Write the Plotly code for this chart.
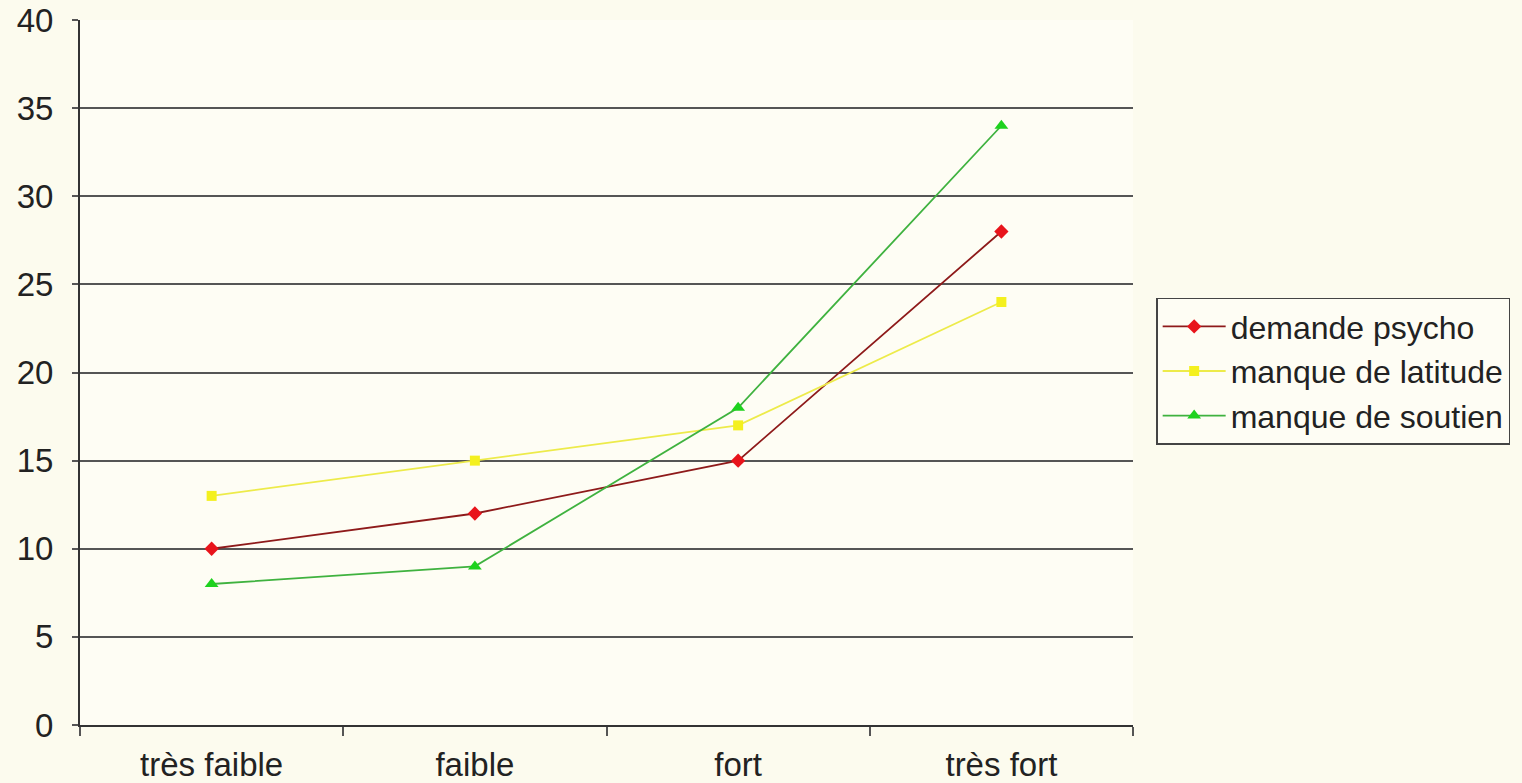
import plotly.graph_objects as go

categories = ["très faible", "faible", "fort", "très fort"]
demande_psycho = [10, 12, 15, 28]
manque_latitude = [13, 15, 17, 24]
manque_soutien = [8, 9, 18, 34]
y_ticks = [0, 5, 10, 15, 20, 25, 30, 35, 40]

series = [
    ("demande psycho", demande_psycho, "#E8141B", "#8E1A1A", "diamond", 11),
    ("manque de latitude", manque_latitude, "#F4F01E", "#EDEB4A", "square", 10),
    ("manque de soutien", manque_soutien, "#1ED21E", "#3FB23F", "triangle-up", 12),
]

fig = go.Figure()
for name, vals, mcol, lcol, sym, size in series:
    fig.add_trace(go.Scatter(
        x=categories, y=vals, name=name, mode="lines+markers",
        line=dict(color=lcol, width=1.8),
        marker=dict(color=mcol, symbol=sym, size=size),
    ))

font = "Liberation Sans, Arial, sans-serif"
fig.update_layout(
    width=1522, height=783,
    margin=dict(l=80, r=389, t=20, b=58),
    paper_bgcolor="#FCFBEE",
    plot_bgcolor="#FEFDF4",
    font=dict(family=font, size=32, color="#222222"),
    showlegend=True,
    legend=dict(
        x=1.022, y=0.502, xanchor="left", yanchor="middle",
        bgcolor="#FEFDF4", bordercolor="#444444", borderwidth=1.5,
        font=dict(size=32, color="#222222"),
        tracegroupgap=0, itemwidth=63,
    ),
    xaxis=dict(
        type="category", tickson="boundaries",
        showgrid=False, showline=True, linecolor="#333333", linewidth=2,
        ticks="outside", ticklen=9, tickwidth=2, tickcolor="#555555",
        tickfont=dict(size=33), ticklabelstandoff=9,
        range=[-0.5, 3.5], zeroline=False, automargin=False,
    ),
    yaxis=dict(
        range=[0, 40], tickvals=y_ticks,
        showgrid=True, gridcolor="#555555", gridwidth=2,
        showline=True, linecolor="#333333", linewidth=2,
        ticks="outside", ticklen=6, tickwidth=2, tickcolor="#555555",
        tickfont=dict(size=33), zeroline=False, ticklabelstandoff=12,
        automargin=False,
    ),
)

fig.write_html("out.html")
